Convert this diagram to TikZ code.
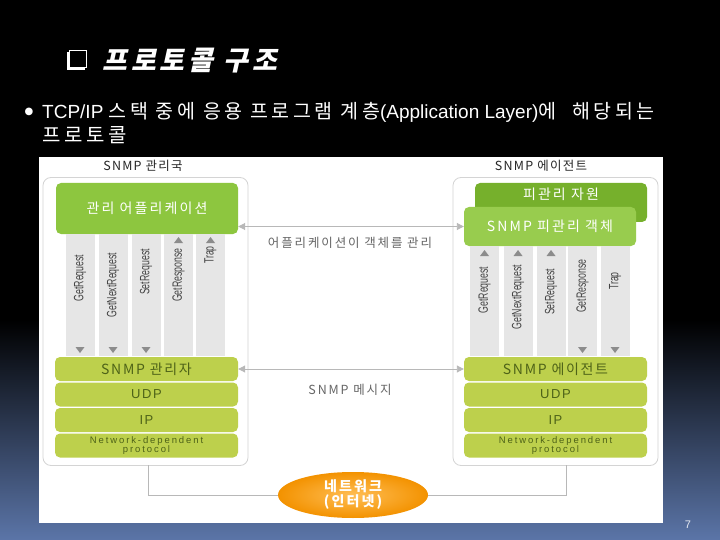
\documentclass[tikz,border=0pt]{standalone}
\usepackage{fontspec}
\setmainfont{Liberation Sans}
\newfontfamily\kr{Noto Sans CJK KR}
\newfontfamily\krline[LetterSpace=18]{Noto Sans CJK KR}
\newfontfamily\krA[LetterSpace=15]{Noto Sans CJK KR}
\newfontfamily\krB[LetterSpace=12]{Noto Sans CJK KR}
\newfontfamily\krC[LetterSpace=10]{Noto Sans CJK KR}
\newfontfamily\krt[FakeSlant=0.22,LetterSpace=15]{Noto Sans CJK KR}
\newfontfamily\lsA[LetterSpace=12]{Liberation Sans}
\newfontfamily\lsB[LetterSpace=20]{Liberation Sans}
\newfontfamily\dvs{DejaVu Sans}
\usetikzlibrary{shapes.geometric,arrows.meta}

\definecolor{bgblue}{HTML}{5B75A8}
\definecolor{appgreen}{HTML}{8DC63F}
\definecolor{resgreen}{HTML}{76B02C}
\definecolor{objgreen}{HTML}{98CC4E}
\definecolor{stackgreen}{HTML}{BDD04C}
\definecolor{stacktext}{HTML}{4E6318}
\definecolor{colgray}{HTML}{E6E6E6}
\definecolor{arrgray}{HTML}{8C8C8C}
\definecolor{boxborder}{HTML}{D4D4D4}
\definecolor{conngray}{HTML}{B8B8B8}
\definecolor{labgray}{HTML}{444444}
\definecolor{midgray}{HTML}{666666}
\definecolor{orangeout}{HTML}{F39200}
\definecolor{orangein}{HTML}{FFBE55}

\newcommand\triup[2]{\fill[arrgray] (#1-4.5,#2+3) -- (#1+4.5,#2+3) -- (#1,#2-3) -- cycle;}
\newcommand\tridown[2]{\fill[arrgray] (#1-4.5,#2-3) -- (#1+4.5,#2-3) -- (#1,#2+3) -- cycle;}

\begin{document}
\begin{tikzpicture}[x=1pt,y=-1pt,
  outerbox/.style={draw=boxborder, line width=0.8pt, rounded corners=8pt, minimum width=205pt, minimum height=288pt, inner sep=0pt},
  greenbox/.style={rounded corners=5pt, minimum width=182pt, inner sep=0pt, text=white, font=\krA\fontsize{14}{14}\selectfont},
  stackbox/.style={fill=stackgreen, rounded corners=5pt, minimum width=183pt, minimum height=24pt, inner sep=0pt, text=stacktext, align=center, font=\krB\fontsize{14}{14}\selectfont},
  column/.style={fill=colgray, minimum width=29pt, inner sep=0pt},
  collabel/.style={rotate=90, inner sep=0pt, text=labgray, font=\fontsize{13.5}{13.5}\selectfont},
  conn/.style={draw=conngray, line width=0.9pt},
  dblarrow/.style={conn, {Triangle[width=7pt,length=7pt]}-{Triangle[width=7pt,length=7pt]}},
  midlabel/.style={text=midgray, font=\krA\fontsize{12.5}{12.5}\selectfont},
  header/.style={text=black!85, font=\krC\fontsize{12.5}{12.5}\selectfont}
]
\useasboundingbox (0,0) rectangle (720,540);
% background
\fill[black] (0,0) rectangle (720,540);
\shade[top color=black, bottom color=bgblue] (0,320) rectangle (720,540);
% title
\fill[white] (67,52) rectangle (85,70);
\draw[white, line width=1.3pt, fill=black] (69.5,50.5) rectangle (86.5,67.5);
\node[anchor=west, text=white, inner sep=0pt, font=\krt\bfseries\fontsize{27}{27}\selectfont] (title) at (102,61) {프로토콜 구조};
% bullet text
\node[text=white, inner sep=0pt, font=\dvs\fontsize{10}{10}\selectfont] (bul) at (29,112) {●};
\node[anchor=base west, text=white, inner sep=0pt, font=\fontsize{19}{19}\selectfont] (line1) at (42,119) {TCP/IP {\krline\fontsize{19.5}{19.5}\selectfont 스택 중에 응용 프로그램 계층}(Application Layer){\krline\fontsize{19.5}{19.5}\selectfont 에\ \ 해당되는}};
\node[anchor=base west, text=white, inner sep=0pt, font=\krline\fontsize{20}{20}\selectfont] (line2) at (42,143) {프로토콜};
% page number
\node[text=white!85!bgblue, font=\fontsize{11}{11}\selectfont] (pnum) at (688,525) {7};

% white panel
\fill[white] (39,157) rectangle (663,523);

% headers
\node[header] (hl) at (143,166) {SNMP 관리국};
\node[header] (hr) at (541,166) {SNMP 에이전트};

% outer boxes
\node[outerbox] (lbox) at (145.5,321.5) {};
\node[outerbox] (rbox) at (555.5,321.5) {};

% left side
\node[greenbox, fill=appgreen, minimum height=51pt] (app) at (147,208.5) {관리 어플리케이션};
\foreach \cx/\nm in {80/l1,113/l2,146/l3,178.5/l4,210.5/l5}{
  \node[column, minimum height=122pt] (\nm) at (\cx,295) {};
}
\node[collabel] (t1) at (80,278) {\scalebox{0.65}[1]{GetRequest}};
\node[collabel] (t2) at (113,285) {\scalebox{0.65}[1]{GetNextRequest}};
\node[collabel] (t3) at (146,272) {\scalebox{0.65}[1]{SetRequest}};
\node[collabel] (t4) at (178.5,275) {\scalebox{0.65}[1]{GetResponse}};
\node[collabel] (t5) at (210.5,255) {\scalebox{0.65}[1]{Trap}};
\tridown{80}{350}
\tridown{113}{350}
\tridown{146}{350}
\triup{178.5}{240}
\triup{210.5}{240}

\node[stackbox] (mgr) at (146.5,369) {SNMP 관리자};
\node[stackbox, font=\lsA\fontsize{13}{13}\selectfont] (udpl) at (146.5,394.5) {UDP};
\node[stackbox, font=\lsA\fontsize{13}{13}\selectfont] (ipl) at (146.5,420) {IP};
\node[stackbox, font=\lsB\fontsize{9.5}{9.5}\selectfont] (netl) at (146.5,445.5) {Network-dependent\\protocol};

% right side
\node[greenbox, fill=resgreen, minimum width=172pt, minimum height=39pt,
  label={[text=white, font=\krA\fontsize{14}{14}\selectfont, yshift=-21pt]north:피관리 자원}] (res) at (561,202.5) {};
\node[greenbox, fill=objgreen, minimum width=172pt, minimum height=39pt] (obj) at (550,226.5) {SNMP 피관리 객체};
\foreach \cx/\nm in {484.5/r1,518/r2,551/r3,582.5/r4,615/r5}{
  \node[column, minimum height=110pt] (\nm) at (\cx,301) {};
}
\node[collabel] (u1) at (484.5,290) {\scalebox{0.65}[1]{GetRequest}};
\node[collabel] (u2) at (518,297) {\scalebox{0.65}[1]{GetNextRequest}};
\node[collabel] (u3) at (551,292) {\scalebox{0.65}[1]{SetRequest}};
\node[collabel] (u4) at (582.5,286) {\scalebox{0.65}[1]{GetResponse}};
\node[collabel] (u5) at (615,281) {\scalebox{0.65}[1]{Trap}};
\triup{484.5}{253}
\triup{518}{253}
\triup{551}{253}
\tridown{582.5}{350}
\tridown{615}{350}

\node[stackbox] (agt) at (555.5,369) {SNMP 에이전트};
\node[stackbox, font=\lsA\fontsize{13}{13}\selectfont] (udpr) at (555.5,394.5) {UDP};
\node[stackbox, font=\lsA\fontsize{13}{13}\selectfont] (ipr) at (555.5,420) {IP};
\node[stackbox, font=\lsB\fontsize{9.5}{9.5}\selectfont] (netr) at (555.5,445.5) {Network-dependent\\protocol};

% middle connectors
\draw[dblarrow] (app.east |- obj.west) -- (obj.west);
\node[midlabel] (ml1) at (350,243) {어플리케이션이 객체를 관리};
\draw[dblarrow] (mgr.east) -- (agt.west);
\node[midlabel] (ml2) at (350,390) {SNMP 메시지};

% network
\node[ellipse, minimum width=150pt, minimum height=46pt, inner sep=0pt,
  inner color=orangein, outer color=orangeout, text=white, align=center,
  font=\krA\bfseries\fontsize{14}{15}\selectfont] (net) at (353,495) {네트워크\\(인터넷)};
\coordinate (ldrop) at (148,465);
\coordinate (rdrop) at (566,465);
\draw[conn] (ldrop) |- (net.west);
\draw[conn] (rdrop) |- (net.east);
\end{tikzpicture}
\end{document}
